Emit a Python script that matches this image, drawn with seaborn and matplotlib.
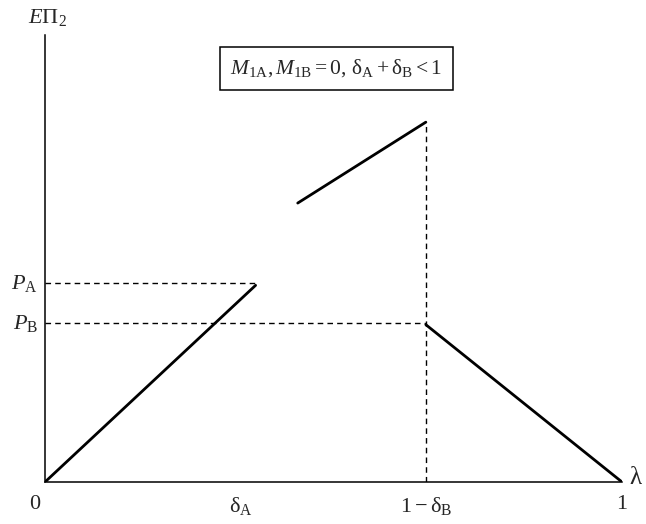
import matplotlib

matplotlib.use("Agg")
import matplotlib.pyplot as plt
import pandas as pd
import seaborn as sns

# --- dane (osie znormalizowane 0..1) ---
DELTA_A_TICK = 0.34
ONE_MINUS_DELTA_B = 0.66
P_A = 0.445
P_B = 0.355

seg_x = [[0.0, 0.365], [0.438, 0.66], [0.66, 1.0]]
seg_y = [[0.0, 0.44], [0.624, 0.805], [0.352, 0.0]]

x_ticks = [0.0, DELTA_A_TICK, ONE_MINUS_DELTA_B, 1.0]
x_tick_labels = ["0", r"$\mathrm{δ}_\mathrm{A}$", r"$1 - \mathrm{δ}_\mathrm{B}$", "1"]
y_ticks = [P_A, P_B]
y_tick_labels = [r"$P_\mathrm{A}$", r"$P_\mathrm{B}$"]

sns.set_theme(style="white")
plt.rcParams["font.family"] = ["Liberation Serif", "DejaVu Serif"]
plt.rcParams["mathtext.fontset"] = "custom"
plt.rcParams["mathtext.rm"] = "Liberation Serif"
plt.rcParams["mathtext.it"] = "Liberation Serif:italic"
plt.rcParams["mathtext.bf"] = "Liberation Serif:bold"

fig = plt.figure(figsize=(6.46, 5.24), dpi=100)
ax = fig.add_axes([45 / 646, 42 / 524, 577 / 646, 447 / 524])

rows = []
for i, (xs, ys) in enumerate(zip(seg_x, seg_y)):
    for x, y in zip(xs, ys):
        rows.append({"seg": i, "x": x, "y": y})
df = pd.DataFrame(rows)
sns.lineplot(data=df, x="x", y="y", units="seg", estimator=None,
             color="black", linewidth=2.0, ax=ax, sort=False)

# linie pomocnicze (przerywane)
dash = dict(color="black", linewidth=1.0, linestyle=(0, (4, 3)))
ax.plot([0, seg_x[0][1]], [P_A, P_A], **dash)
ax.plot([0, ONE_MINUS_DELTA_B], [P_B, P_B], **dash)
ax.plot([ONE_MINUS_DELTA_B, ONE_MINUS_DELTA_B], [0, seg_y[1][1]], **dash)

ax.set_xlim(0, 1)
ax.set_ylim(0, 1)
for s in ["top", "right"]:
    ax.spines[s].set_visible(False)
for s in ["left", "bottom"]:
    ax.spines[s].set_color("black")
    ax.spines[s].set_linewidth(1.1)
ax.set_xticks([])
ax.set_yticks([])
ax.set_xlabel("")
ax.set_ylabel("")

fs = 16
for x, lab in zip(x_ticks, x_tick_labels):
    xx = -0.018 if x == 0 else x
    ax.text(xx, -0.028, lab, ha="center", va="top", fontsize=fs, clip_on=False)
for y, lab in zip(y_ticks, y_tick_labels):
    ax.text(-0.012, y, lab, ha="right", va="center", fontsize=fs, clip_on=False)

ax.text(1.012, 0.01, "λ", ha="left", va="center", fontsize=fs + 2, clip_on=False)
ax.text(0.005, 1.015, r"$E\Pi_2$", ha="center", va="bottom", fontsize=fs, clip_on=False)

ax.text(0.505, 0.925, r"$M_\mathrm{1A}, M_\mathrm{1B} = 0,\, \mathrm{δ}_\mathrm{A} + \mathrm{δ}_\mathrm{B} < 1$",
        ha="center", va="center", fontsize=fs - 0.5, transform=ax.transAxes,
        bbox=dict(boxstyle="square,pad=0.5", facecolor="white", edgecolor="black", linewidth=1.1))

fig.savefig("out.png", dpi=100)
